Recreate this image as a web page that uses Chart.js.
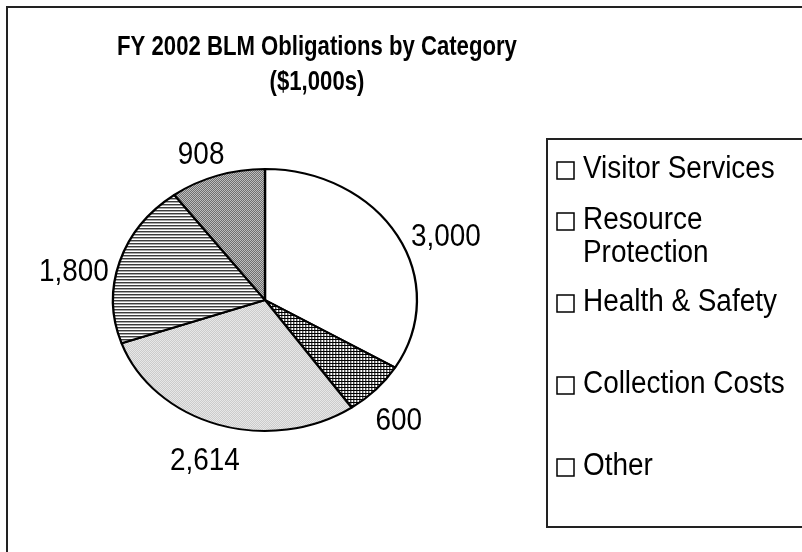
<!DOCTYPE html>
<html lang="en">
<head>
    <meta charset="UTF-8">
    <script src="https://cdn.jsdelivr.net/npm/chart.js@4.4.1/dist/chart.umd.min.js"></script>
    <style>
        body { margin: 0; background: #fff; }
        canvas { display: block; }
    </style>
    <title>FY 2002 BLM Obligations by Category</title>
</head>
<body>
    <canvas id="pieChart" width="802" height="552"></canvas>

    <script>
        // chart data
        const categories = ['Visitor Services', 'Resource Protection', 'Health & Safety', 'Collection Costs', 'Other'];
        const obligations = [3000, 600, 2614, 1800, 908];
        const titleLines = ['FY 2002 BLM Obligations by Category', '($1,000s)'];

        // layout bits (not data)
        const FONT = "'Liberation Sans', Arial, sans-serif";
        const TEXT_SX = 0.9;          // text in the original looks a bit narrow
        const TITLE_SX = 0.82;
        const PIE_SX = 1.16;          // pie is a little wider than tall
        const PIE_CX = 265;
        const LABEL_DY = 18;          // value labels sit a bit low in the original
        const titleY = [48, 83];
        const legendBaselines = [178, 229, 311, 393, 475];

        function makePattern(size, paint) {
            const c = document.createElement('canvas');
            c.width = size[0];
            c.height = size[1];
            const g = c.getContext('2d');
            g.fillStyle = '#fff';
            g.fillRect(0, 0, c.width, c.height);
            paint(g);
            const p = c.getContext('2d').createPattern(c, 'repeat');
            p.setTransform(new DOMMatrix().scale(1 / PIE_SX, 1));
            return p;
        }

        const ctx = document.getElementById('pieChart').getContext('2d');

        const fills = [
            '#ffffff',
            // dense black grid
            makePattern([3, 3], g => {
                g.fillStyle = '#000';
                g.fillRect(0, 0, 3, 1);
                g.fillRect(0, 0, 1, 3);
            }),
            // light gray dots
            makePattern([2, 2], g => {
                g.fillStyle = '#b4b4b4';
                g.fillRect(0, 0, 1, 1);
                g.fillRect(1, 1, 1, 1);
            }),
            // horizontal stripes
            makePattern([1, 3], g => {
                g.fillStyle = '#3c3c3c';
                g.fillRect(0, 0, 1, 1);
                g.fillStyle = '#a8a8a8';
                g.fillRect(0, 1, 1, 1);
            }),
            // fine checker
            makePattern([2, 2], g => {
                g.fillStyle = '#303030';
                g.fillRect(0, 0, 1, 1);
                g.fillRect(1, 1, 1, 1);
            })
        ];

        function scaledText(c, text, x, y, align, sx) {
            c.save();
            c.translate(x, y);
            c.scale(sx || TEXT_SX, 1);
            c.textAlign = align;
            c.fillText(text, 0, 0);
            c.restore();
        }

        function pieX(chart, x) {
            const cx = (chart.chartArea.left + chart.chartArea.right) / 2;
            return PIE_CX + (x - cx) * PIE_SX;
        }

        const framePlugin = {
            id: 'frames',
            beforeDraw(chart) {
                const c = chart.ctx;
                c.save();
                c.fillStyle = '#fff';
                c.fillRect(0, 0, chart.width, chart.height);
                c.strokeStyle = '#222';
                c.lineWidth = 2;
                c.strokeRect(7, 7, 900, 900);
                c.strokeRect(547, 139, 400, 388);
                c.restore();
            }
        };

        const titlePlugin = {
            id: 'tallTitle',
            afterDraw(chart) {
                const c = chart.ctx;
                const cx = (chart.chartArea.left + chart.chartArea.right) / 2;
                c.save();
                c.font = 'bold 27px ' + FONT;
                c.fillStyle = '#000';
                c.textBaseline = 'middle';
                titleLines.forEach((t, i) => scaledText(c, t, cx, titleY[i], 'center', TITLE_SX));
                c.restore();
            }
        };

        const stretchPlugin = {
            id: 'stretch',
            beforeDatasetsDraw(chart) {
                const c = chart.ctx;
                const cx = (chart.chartArea.left + chart.chartArea.right) / 2;
                c.save();
                c.translate(PIE_CX, 0);
                c.scale(PIE_SX, 1);
                c.translate(-cx, 0);
            },
            afterDatasetsDraw(chart) {
                chart.ctx.restore();
            }
        };

        const valueLabelPlugin = {
            id: 'valueLabels',
            afterDatasetsDraw(chart) {
                const c = chart.ctx;
                const meta = chart.getDatasetMeta(0);
                const values = chart.data.datasets[0].data;
                c.save();
                c.font = '31px ' + FONT;
                c.fillStyle = '#000';
                c.textBaseline = 'middle';
                meta.data.forEach((arc, i) => {
                    const p = arc.getProps(['x', 'y', 'startAngle', 'endAngle', 'outerRadius'], true);
                    const mid = (p.startAngle + p.endAngle) / 2;
                    const gap = 8;
                    const cos = Math.cos(mid);
                    const sin = Math.sin(mid);
                    const rx = p.outerRadius * PIE_SX;
                    const ry = p.outerRadius;
                    const ax = PIE_CX + (rx + gap) * cos;
                    const ay = p.y + LABEL_DY + (ry + gap) * sin;
                    const text = values[i].toLocaleString('en-US');
                    const w = c.measureText(text).width * TEXT_SX;
                    const h = 24;
                    let lx = ax + cos * w / 2;
                    let ly = ay + sin * h / 2;

                    // push the label outwards until its box clears the pie
                    const hits = (x, y) => {
                        const m = 5;
                        for (let k = 0; k <= 6; k++) {
                            const f = k / 6;
                            const pts = [
                                [x - w / 2 + f * w, y - h / 2],
                                [x - w / 2 + f * w, y + h / 2],
                                [x - w / 2, y - h / 2 + f * h],
                                [x + w / 2, y - h / 2 + f * h]
                            ];
                            for (const [px, py] of pts) {
                                const ex = (px - PIE_CX) / (rx + m);
                                const ey = (py - p.y) / (ry + m);
                                if (ex * ex + ey * ey < 1) return true;
                            }
                        }
                        return false;
                    };
                    for (let step = 0; step < 80 && hits(lx, ly); step++) {
                        lx += cos;
                        ly += sin;
                    }
                    scaledText(c, text, lx, ly, 'center');
                });
                c.restore();
            }
        };

        const legendPlugin = {
            id: 'boxLegend',
            afterDraw(chart) {
                const c = chart.ctx;
                const left = 557, textX = 583, maxW = 212, lineH = 33;
                c.save();
                c.font = '31px ' + FONT;
                c.fillStyle = '#000';
                c.textBaseline = 'alphabetic';
                chart.data.labels.forEach((label, i) => {
                    const base = legendBaselines[i];
                    // wrap words that don't fit
                    const lines = [];
                    let line = '';
                    label.split(' ').forEach(word => {
                        const test = line ? line + ' ' + word : word;
                        if (line && c.measureText(test).width * TEXT_SX > maxW) {
                            lines.push(line);
                            line = word;
                        } else {
                            line = test;
                        }
                    });
                    lines.push(line);

                    c.fillStyle = '#fff';
                    c.fillRect(left, base - 16, 17, 17);
                    c.strokeStyle = '#000';
                    c.lineWidth = 1.5;
                    c.strokeRect(left, base - 16, 17, 17);
                    c.fillStyle = '#000';
                    lines.forEach((t, k) => scaledText(c, t, textX, base + k * lineH, 'left'));
                });
                c.restore();
            }
        };

        new Chart(ctx, {
            type: 'pie',
            data: {
                labels: categories,
                datasets: [{
                    data: obligations,
                    backgroundColor: fills,
                    borderColor: '#000',
                    borderWidth: 2,
                    borderAlign: 'center',
                    radius: 131
                }]
            },
            options: {
                responsive: false,
                animation: false,
                layout: {
                    padding: { left: 0, right: 168, top: 160, bottom: 112 }
                },
                plugins: {
                    legend: { display: false },
                    tooltip: { enabled: false },
                    title: { display: false }
                }
            },
            plugins: [framePlugin, stretchPlugin, valueLabelPlugin, titlePlugin, legendPlugin]
        });
    </script>
</body>
</html>
